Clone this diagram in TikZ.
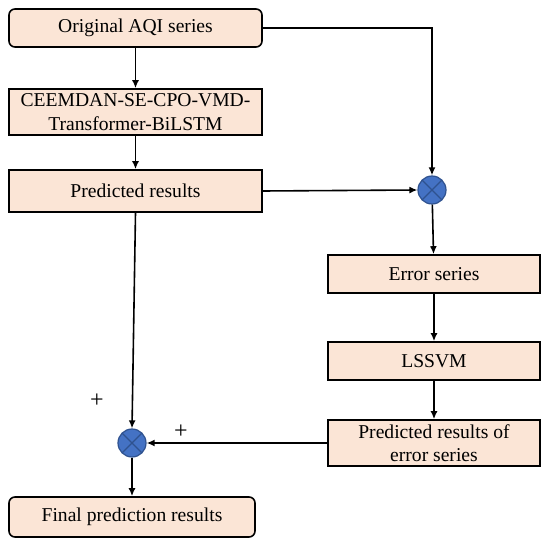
\documentclass[tikz,border=0pt]{standalone}
\usepackage{fontspec}
\setmainfont{Liberation Serif}
\usetikzlibrary{arrows.meta}
\definecolor{boxfill}{HTML}{FBE5D6}
\definecolor{sumfill}{HTML}{4472C4}
\definecolor{sumdraw}{HTML}{2F528F}

\begin{document}
\begin{tikzpicture}[
  x=1pt, y=-1pt,
  stage/.style={rectangle, draw=black, line width=1.6pt, fill=boxfill,
    inner sep=0pt, align=center, font=\fontsize{19.6}{23.5}\selectfont},
  endpoint/.style={stage, rounded corners=6pt},
  summer/.style={circle, draw=sumdraw, line width=1.2pt, fill=sumfill,
    minimum size=28pt, inner sep=0pt,
    path picture={\draw[line width=1.2pt, sumdraw]
      (path picture bounding box.south west) -- (path picture bounding box.north east)
      (path picture bounding box.north west) -- (path picture bounding box.south east);}},
  link/.style={-{Latex[length=8pt, width=7pt]}, line width=1.6pt},
  sign/.style={font=\fontsize{24}{24}\selectfont},
]
  \useasboundingbox (0,0) rectangle (550,548);

  \node[endpoint, minimum width=253pt, minimum height=38pt] (orig) at (135.5,28) {Original AQI series};
  \node[stage, minimum width=253pt, minimum height=46pt] (hybrid) at (135.5,112) {CEEMDAN-SE-CPO-VMD-\\Transformer-BiLSTM};
  \node[stage, minimum width=253pt, minimum height=42pt] (pred) at (135.5,191) {Predicted results};
  \node[summer] (sub) at (432,190) {};
  \node[stage, minimum width=212pt, minimum height=38pt] (err) at (434,274) {Error series};
  \node[stage, minimum width=212pt, minimum height=38pt] (lssvm) at (434,361) {LSSVM};
  \node[stage, minimum width=212pt, minimum height=46pt] (errpred) at (434,443) {Predicted results of\\error series};
  \node[summer] (add) at (132,443) {};
  \node[endpoint, minimum width=246pt, minimum height=40pt] (final) at (132,517) {Final prediction results};
  \node[sign] (plusa) at (97,401) {+};
  \node[sign] (plusb) at (181,432) {+};

  \draw[link] (orig) -- (hybrid);
  \draw[link] (hybrid) -- (pred);
  \draw[link] (orig.east) -| (sub.north);
  \draw[link] (pred.east) -- (sub.west);
  \draw[link] (sub) -- (err);
  \draw[link] (err) -- (lssvm);
  \draw[link] (lssvm) -- (errpred);
  \draw[link] (errpred.west) -- (add.east);
  \draw[link] (pred.south) -- (add.north);
  \draw[link] (add) -- (final);
\end{tikzpicture}
\end{document}
